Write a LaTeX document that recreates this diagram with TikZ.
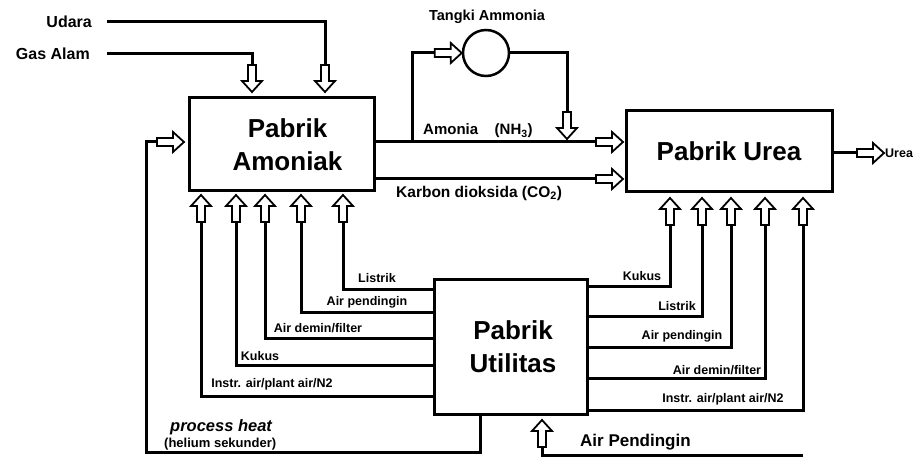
\documentclass[tikz,border=0pt]{standalone}
\usepackage{fontspec}
\setmainfont{Liberation Sans}
\begin{document}
\begin{tikzpicture}[x=1pt,y=-1pt,
  box/.style={draw, line width=3pt, inner sep=0pt, align=center, font=\fontsize{26}{33}\selectfont\bfseries},
  tankc/.style={draw, circle, line width=2.5pt, minimum size=46pt, inner sep=0pt},
  flow/.style={line width=3pt, line join=miter},
  lbl/.style={inner sep=0pt, font=\fontsize{12.5}{15}\selectfont\bfseries},
  mid/.style={inner sep=0pt, font=\fontsize{16}{19}\selectfont\bfseries},
  hol/.style={line width=1.8pt, fill=white, line join=miter},
  arrR/.pic={\draw[hol] (0,0)--(-11,-10)--(-11,-4)--(-27,-4)--(-27,4)--(-11,4)--(-11,10)--cycle;},
  arrD/.pic={\draw[hol] (0,0)--(-10,-11)--(-4,-11)--(-4,-27)--(4,-27)--(4,-11)--(10,-11)--cycle;},
  arrU/.pic={\draw[hol] (0,0)--(-10,11)--(-4,11)--(-4,27)--(4,27)--(4,11)--(10,11)--cycle;}
]
\useasboundingbox (0,0) rectangle (923,457);

% boxes
\node[box, minimum width=185pt, minimum height=93pt] (amo) at (281.5,144.5) {\hspace*{12pt}Pabrik\\\hspace*{12pt}Amoniak};
\node[box, minimum width=206pt, minimum height=81pt] (urea) at (729,151.5) {Pabrik Urea};
\node[box, minimum width=153pt, minimum height=135pt] (util) at (510.5,346.5) {\hspace*{5pt}Pabrik\\\hspace*{5pt}Utilitas};
\node[tankc] (tank) at (486,53) {};

% labels
\node[mid, anchor=east] (udara) at (92,22) {Udara};
\node[mid, anchor=east] (gas) at (90,54) {Gas Alam};
\node[mid, font=\fontsize{14.5}{17}\selectfont\bfseries] (tanklbl) at (487,17) {Tangki Ammonia};
\node[mid, anchor=west, font=\fontsize{15}{18}\selectfont\bfseries] (nh3) at (423,131) {Amonia\hspace{1.1em}(NH\textsubscript{3})};
\node[mid, anchor=west, font=\fontsize{15.5}{18}\selectfont\bfseries] (co2) at (396,193) {Karbon dioksida (CO\textsubscript{2})};
\node[lbl, anchor=west] (urealbl) at (885,153) {Urea};
\node[mid, anchor=west, font=\fontsize{16.5}{19}\selectfont\bfseries\itshape] (ph) at (170,427) {process heat};
\node[lbl, anchor=west, font=\fontsize{13}{15}\selectfont\bfseries] (hs) at (164,444) {(helium sekunder)};
\node[mid, anchor=west, font=\fontsize{17}{20}\selectfont\bfseries] (apd) at (580,442) {Air Pendingin};

\node[lbl] (l1) at (377,278) {Listrik};
\node[lbl] (l2) at (367,302) {Air pendingin};
\node[lbl] (l3) at (318,328) {Air demin/filter};
\node[lbl] (l4) at (260,356) {Kukus};
\node[lbl] (l5) at (272,384) {Instr. air/plant air/N2};

\node[lbl] (r1) at (642,276) {Kukus};
\node[lbl] (r2) at (677,306) {Listrik};
\node[lbl] (r3) at (682,336) {Air pendingin};
\node[lbl] (r4) at (717,370) {Air demin/filter};
\node[lbl] (r5) at (723,399) {Instr. air/plant air/N2};

% coordinates
\coordinate (udS) at (107,22);
\coordinate (gaS) at (107,54);
\coordinate (br) at (412,142);

% input lines
\draw[flow] (udS) -| (325,65);
\draw[flow] (gaS) -| (252,65);
\pic at (325,92) {arrD};
\pic at (252,92) {arrD};

% ammonia & CO2
\draw[flow] (amo.east |- 0,142) -- (596,142);
\draw[flow] (br) |- (436,53);
\draw[flow] (tank.east) -| (567,112);
\draw[flow] (amo.east |- 0,179) -- (596,179);
\pic at (623,142) {arrR};
\pic at (623,179) {arrR};
\pic at (tank.west) {arrR};
\pic at (567,139) {arrD};

% urea product
\draw[flow] (urea.east |- 0,153) -- (857,153);
\pic at (884,153) {arrR};

% process heat feedback
\draw[flow] (util.south -| 480,0) -- (480,452) -- (146,452) -- (146,142) -- (158,142);
\pic at (184,142) {arrR};

% utilities to amoniak
\foreach \x/\y in {201/396,236/365,265/338,301/312,343/289}{
  \draw[flow] (util.west |- 0,\y) -| (\x,222);
  \pic at (\x,195) {arrU};
}
% utilities to urea
\foreach \x/\y in {670/286,702/316,731/347,765/378,803/410}{
  \draw[flow] (util.east |- 0,\y) -| (\x,225);
  \pic at (\x,198) {arrU};
}

% cooling water in
\draw[flow] (803,455) -- (542,455) -- (542,446);
\pic at (542,420) {arrU};
\end{tikzpicture}
\end{document}
